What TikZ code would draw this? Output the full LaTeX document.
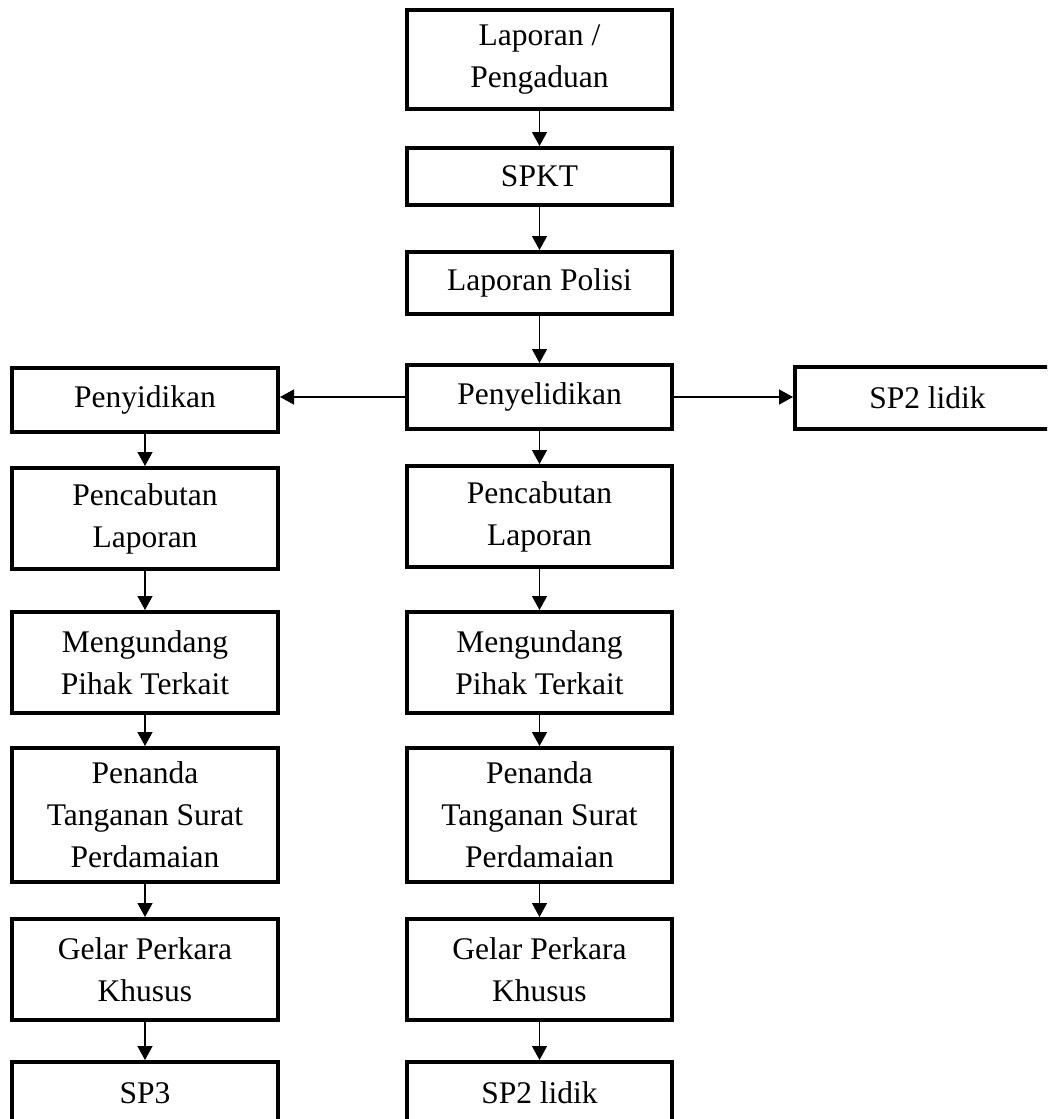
\documentclass[tikz,border=0pt]{standalone}
\usepackage{fontspec}
\setmainfont{Liberation Serif}
\usetikzlibrary{arrows.meta}
\begin{document}
\begin{tikzpicture}[x=1pt,y=-1pt,
  box/.style={draw=black, line width=4pt, minimum width=265pt, align=center, inner sep=0pt,
    font=\fontsize{31.5}{42}\selectfont},
  conn/.style={line width=1.3pt, -{Triangle[length=14pt,width=15pt]}}]
\useasboundingbox (0,0) rectangle (1047,1119);
\clip (0,0) rectangle (1047,1119);
% center column
\node[box, minimum height=99pt] (lp) at (539.5,59.5) {Laporan /\\Pengaduan};
\node[box, minimum height=57pt] (spkt) at (539.5,176.5) {SPKT};
\node[box, minimum height=62pt] (pol) at (539.5,283) {Laporan Polisi};
\node[box, minimum height=64pt] (sel) at (539.5,397) {Penyelidikan};
\node[box, minimum height=101pt] (rc) at (539.5,516.5) {Pencabutan\\Laporan};
\node[box, minimum height=101pt] (rm) at (539.5,662.5) {Mengundang\\Pihak Terkait};
\node[box, minimum height=134pt] (rp) at (539.5,815) {Penanda\\Tanganan Surat\\Perdamaian};
\node[box, minimum height=101pt] (rg) at (539.5,969.5) {Gelar Perkara\\Khusus};
\node[box, minimum height=62pt] (rs) at (539.5,1093) {SP2 lidik};
% left column
\node[box, minimum width=266pt, minimum height=64pt] (sid) at (145,400) {Penyidikan};
\node[box, minimum width=266pt, minimum height=101pt] (lc) at (145,518.5) {Pencabutan\\Laporan};
\node[box, minimum width=266pt, minimum height=101pt] (lm) at (145,662.5) {Mengundang\\Pihak Terkait};
\node[box, minimum width=266pt, minimum height=134pt] (lpd) at (145,815) {Penanda\\Tanganan Surat\\Perdamaian};
\node[box, minimum width=266pt, minimum height=101pt] (lg) at (145,969.5) {Gelar Perkara\\Khusus};
\node[box, minimum width=266pt, minimum height=62pt] (ls) at (145,1093) {SP3};
% right
\node[box, minimum height=62pt] (sp2) at (927.5,398) {SP2 lidik};
% connectors
\draw[conn] (lp) -- (spkt);
\draw[conn] (spkt) -- (pol);
\draw[conn] (pol) -- (sel);
\draw[conn] (sel) -- (rc);
\draw[conn] (rc) -- (rm);
\draw[conn] (rm) -- (rp);
\draw[conn] (rp) -- (rg);
\draw[conn] (rg) -- (rs);
\draw[conn] (sel.west) -- (sel.west -| sid.east);
\draw[conn] (sel.east) -- (sel.east -| sp2.west);
\draw[conn] (sid) -- (lc);
\draw[conn] (lc) -- (lm);
\draw[conn] (lm) -- (lpd);
\draw[conn] (lpd) -- (lg);
\draw[conn] (lg) -- (ls);
\end{tikzpicture}
\end{document}
